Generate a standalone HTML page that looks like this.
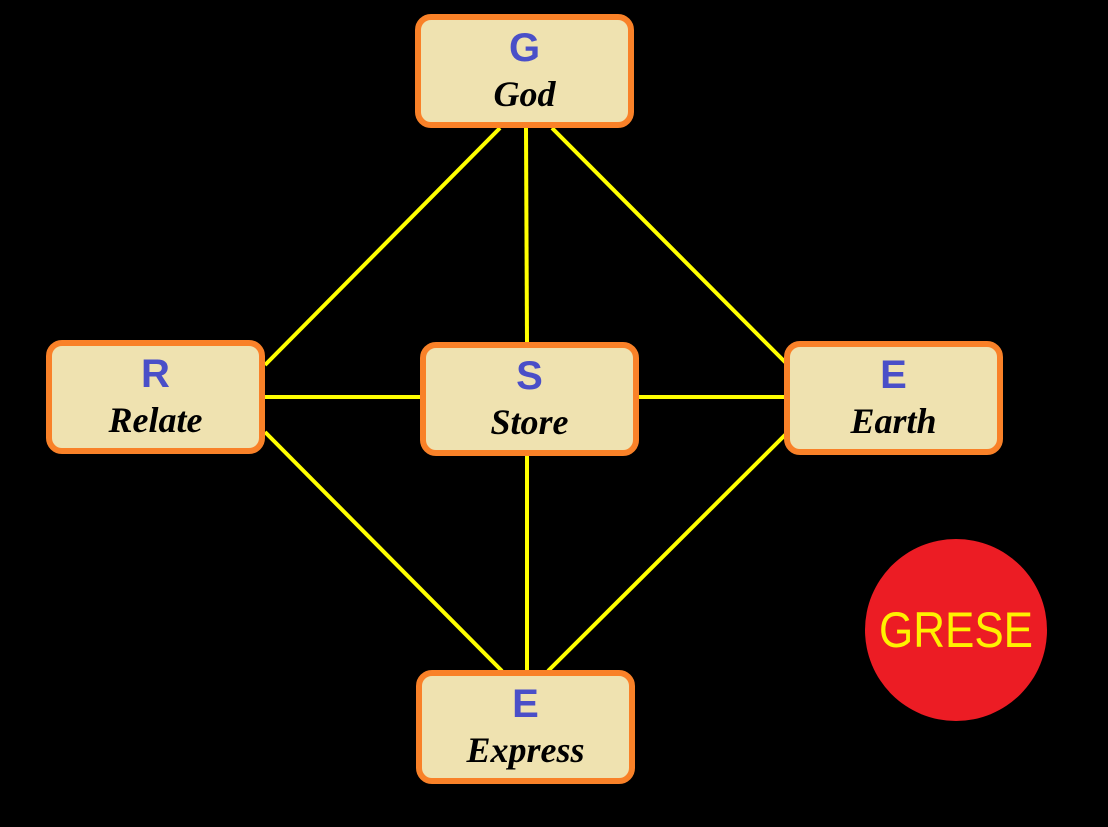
<!DOCTYPE html>
<html><head><style>
body{margin:0;width:1108px;height:827px;background:#000;position:relative;overflow:hidden;font-family:"Liberation Sans",sans-serif}
.b{position:absolute;box-sizing:border-box;width:219px;height:114px;border:6px solid #f98128;border-radius:16px;background:#efe2b0;text-align:center}
.l{position:absolute;left:0;right:0;top:6px;font-size:40px;font-weight:bold;color:#4a4fc8;line-height:44px}
.w{position:absolute;left:0;right:0;top:54px;font-family:"Liberation Serif",serif;font-style:italic;font-weight:bold;font-size:36px;color:#000;line-height:40px}
svg{position:absolute;left:0;top:0}
.c{position:absolute;left:865px;top:539px;width:182px;height:182px;border-radius:50%;background:#ec1c24;}
.c span{position:absolute;left:0;right:0;top:0;text-align:center;line-height:182px;color:#fff200;font-size:50px;transform:scaleX(0.88)}
</style></head><body>
<svg width="1108" height="827"><g stroke="#ffff00" stroke-width="4">
<line x1="500" y1="128" x2="265" y2="365"/>
<line x1="526" y1="128" x2="527" y2="343"/>
<line x1="552" y1="128" x2="786" y2="363"/>
<line x1="265" y1="397" x2="421" y2="397"/>
<line x1="638" y1="397" x2="786" y2="397"/>
<line x1="265" y1="432" x2="502" y2="671"/>
<line x1="527" y1="455" x2="527" y2="671"/>
<line x1="786" y1="434" x2="548" y2="671"/>
</g></svg>
<div class="b" style="left:415px;top:14px"><div class="l">G</div><div class="w">God</div></div>
<div class="b" style="left:46px;top:340px"><div class="l">R</div><div class="w">Relate</div></div>
<div class="b" style="left:420px;top:342px"><div class="l">S</div><div class="w">Store</div></div>
<div class="b" style="left:784px;top:341px"><div class="l">E</div><div class="w">Earth</div></div>
<div class="b" style="left:416px;top:670px"><div class="l">E</div><div class="w">Express</div></div>
<div class="c"><span>GRESE</span></div>
</body></html>
